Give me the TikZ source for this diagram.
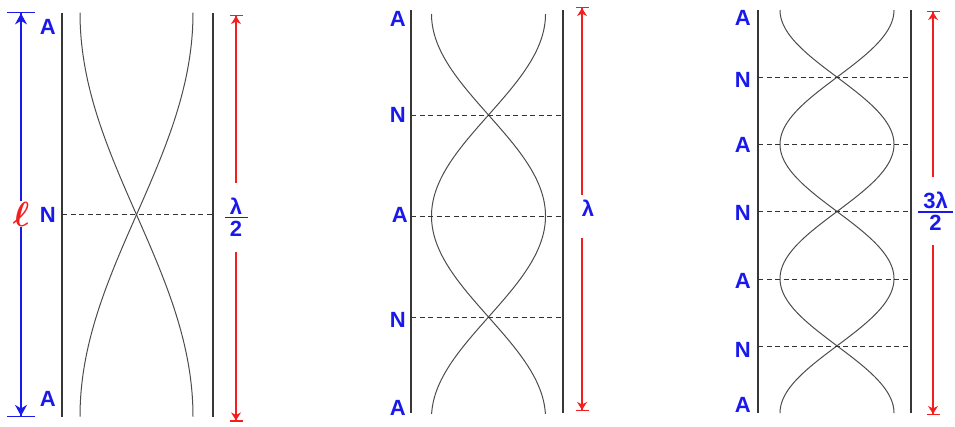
\documentclass[tikz,border=0pt]{standalone}
\usepackage{graphicx}
\usepackage{fontspec}
\setmainfont{Liberation Sans}
\usetikzlibrary{arrows.meta}
\definecolor{lblue}{RGB}{25,25,235}
\definecolor{lred}{RGB}{245,30,30}
\definecolor{wallc}{RGB}{55,55,55}
\newcommand{\myellsym}{\scalebox{1.4}{\boldmath\ensuremath{\ell}}}
\begin{document}
\begin{tikzpicture}[x=1pt,y=-1pt,
  wall/.style={draw=wallc, line width=1.4pt},
  wave/.style={draw=black!70, line width=1pt},
  level/.style={draw=black!80, line width=1pt, dash pattern=on 5pt off 3.5pt},
  lab/.style={text=lblue, font=\fontsize{22}{22}\selectfont\bfseries, inner sep=0pt},
  ellstyle/.style={text=lred, fill=white, inner sep=1pt, font=\fontsize{24.88}{26}\selectfont},
  fbar/.style={fill=lblue, inner sep=0pt, minimum height=1.8pt},
  redarr/.style={draw=lred, line width=1.1pt, -{Stealth[length=8pt,width=10pt,sep=0pt]Bar[width=13pt,sep=0pt]}},
  bluearr/.style={draw=lblue, line width=1.1pt, -{Stealth[length=11pt,width=12pt,sep=0pt]Bar[width=28pt,sep=0pt]}}
]
\useasboundingbox (0,0) rectangle (955,426);

% ---------- panel 1 ----------
\coordinate (w1a) at (62,12.7); \coordinate (w1b) at (62,416.7);
\coordinate (w1c) at (213,12.7); \coordinate (w1d) at (213,416.7);
\draw[wall] (w1a) -- (w1b);
\draw[wall] (w1c) -- (w1d);
\draw[wave] plot[domain=12.7:416.7, samples=150] ({136.5-56.5*cos((\x-12.7)/404*180)}, \x);
\draw[wave] plot[domain=12.7:416.7, samples=150] ({136.5+56.5*cos((\x-12.7)/404*180)}, \x);
\coordinate (d1a) at (62,214.5); \coordinate (d1b) at (213,214.5);
\draw[level] (d1a) -- (d1b);
\node[lab, anchor=east] (a1t) at (56,27) {A};
\node[lab, anchor=east] (n1) at (56,214.5) {N};
\node[lab, anchor=east] (a1b) at (56,399) {A};
% blue length arrow
\coordinate (bt) at (21,12.3);
\coordinate (bb) at (21,417);
\node[ellstyle] (lsym) at (21,214) {\myellsym};
\draw[bluearr] (lsym) -- (bt);
\draw[bluearr] (lsym) -- (bb);
% red lambda/2 arrow
\coordinate (r1t) at (236,15); \coordinate (r1b) at (236,421.5);
\node[fbar, minimum width=23pt] (f1) at (236,217.5) {};
\node[lab, anchor=south] (f1n) at ([yshift=2pt]f1.north) {λ};
\node[lab, anchor=north] (f1d) at ([yshift=-2.5pt]f1.south) {2};
\coordinate (g1a) at ([yshift=14pt]f1n.north);
\coordinate (g1b) at ([yshift=-15pt]f1d.south);
\draw[redarr] (g1a -| r1t) -- (r1t);
\draw[redarr] (g1b -| r1b) -- (r1b);

% ---------- panel 2 ----------
\coordinate (w2a) at (411,10); \coordinate (w2b) at (411,413);
\coordinate (w2c) at (563,10); \coordinate (w2d) at (563,413);
\draw[wall] (w2a) -- (w2b);
\draw[wall] (w2c) -- (w2d);
\draw[wave] plot[domain=14:414, samples=200] ({488.5-57*cos((\x-14)/404*360)}, \x);
\draw[wave] plot[domain=14:414, samples=200] ({488.5+57*cos((\x-14)/404*360)}, \x);
\foreach \yy/\nm in {115/a, 216/b, 317/c}{
  \coordinate (d2\nm l) at (411,\yy); \coordinate (d2\nm r) at (563,\yy);
  \draw[level] (d2\nm l) -- (d2\nm r);
}
\node[lab, anchor=east] (a2t) at (406,19) {A};
\node[lab, anchor=east] (n2a) at (406,115) {N};
\node[lab, anchor=east] (a2m) at (408,215) {A};
\node[lab, anchor=east] (n2b) at (406,320) {N};
\node[lab, anchor=east] (a2b) at (406,408) {A};
\coordinate (r2t) at (582,7); \coordinate (r2b) at (582,411);
\node[lab] (l2) at (588,208) {λ};
\coordinate (g2a) at ([yshift=5pt]l2.north);
\coordinate (g2b) at ([yshift=-22pt]l2.south);
\draw[redarr] (g2a -| r2t) -- (r2t);
\draw[redarr] (g2b -| r2b) -- (r2b);

% ---------- panel 3 ----------
\coordinate (w3a) at (758,10); \coordinate (w3b) at (758,413);
\coordinate (w3c) at (911,10); \coordinate (w3d) at (911,413);
\draw[wall] (w3a) -- (w3b);
\draw[wall] (w3c) -- (w3d);
\draw[wave] plot[domain=10:413, samples=250] ({837-57*cos((\x-10)/403*540)}, \x);
\draw[wave] plot[domain=10:413, samples=250] ({837+57*cos((\x-10)/403*540)}, \x);
\foreach \yy/\nm in {77/a, 144.5/b, 211.5/c, 279/d, 346/e}{
  \coordinate (d3\nm l) at (758,\yy); \coordinate (d3\nm r) at (911,\yy);
  \draw[level] (d3\nm l) -- (d3\nm r);
}
\node[lab, anchor=east] (a3a) at (751,18) {A};
\node[lab, anchor=east] (n3a) at (751,80) {N};
\node[lab, anchor=east] (a3b) at (751,145) {A};
\node[lab, anchor=east] (n3b) at (751,213) {N};
\node[lab, anchor=east] (a3c) at (751,281) {A};
\node[lab, anchor=east] (n3c) at (751,350) {N};
\node[lab, anchor=east] (a3d) at (751,405) {A};
\coordinate (r3t) at (933,11); \coordinate (r3b) at (933,415);
\node[fbar, minimum width=35pt] (f3) at (935.5,211.7) {};
\node[lab, anchor=south] (f3n) at ([yshift=2pt]f3.north) {3λ};
\node[lab, anchor=north] (f3d) at ([yshift=-2.5pt]f3.south) {2};
\coordinate (g3a) at ([yshift=14pt]f3n.north);
\coordinate (g3b) at ([yshift=-14pt]f3d.south);
\draw[redarr] (g3a -| r3t) -- (r3t);
\draw[redarr] (g3b -| r3b) -- (r3b);
\end{tikzpicture}
\end{document}
